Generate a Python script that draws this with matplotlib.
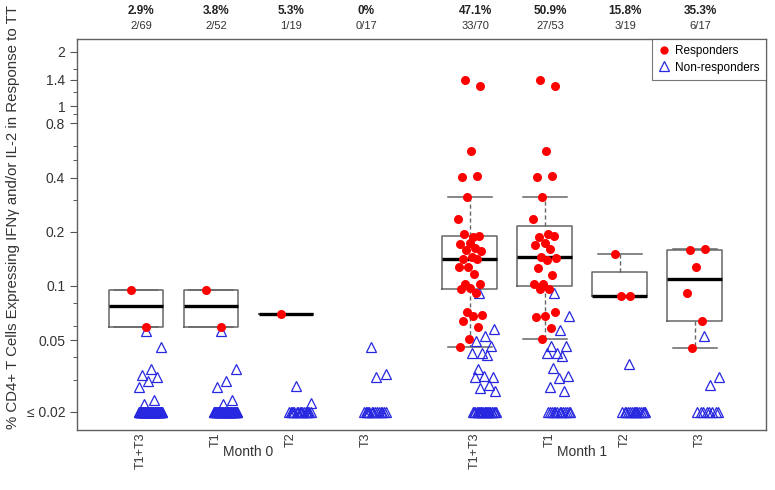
import numpy as np
import matplotlib.pyplot as plt
from matplotlib.lines import Line2D
from matplotlib.transforms import blended_transform_factory, ScaledTranslation

plt.rcParams['font.family'] = ['Liberation Sans', 'DejaVu Sans']

# groups (Month 0: T1+T3, T1, T2, T3 ; Month 1: T1+T3, T1, T2, T3)
labels = ['T1+T3', 'T1', 'T2', 'T3', 'T1+T3', 'T1', 'T2', 'T3']
positions = [1, 2, 3, 4, 5.45, 6.45, 7.45, 8.45]
pct_text = ['2.9%', '3.8%', '5.3%', '0%', '47.1%', '50.9%', '15.8%', '35.3%']
frac_text = ['2/69', '2/52', '1/19', '0/17', '33/70', '27/53', '3/19', '6/17']

# responders
resp_m0_t13 = [0.095, 0.059]
resp_m0_t1 = [0.095, 0.059]
resp_m0_t2 = [0.070]
resp_m0_t3 = []
resp_m1_t13 = [1.39, 1.29, 0.562, 0.403, 0.408, 0.312, 0.236, 0.187, 0.194, 0.190,
               0.173, 0.171, 0.163, 0.158, 0.156, 0.145, 0.141, 0.141, 0.127, 0.127,
               0.117, 0.103, 0.103, 0.0975, 0.0962, 0.0914, 0.0717, 0.069, 0.0681,
               0.0639, 0.0592, 0.0508, 0.0458]
resp_m1_t1 = [1.39, 1.29, 0.562, 0.403, 0.408, 0.312, 0.236, 0.194, 0.187, 0.190,
              0.173, 0.169, 0.160, 0.145, 0.143, 0.139, 0.126, 0.115, 0.103, 0.103,
              0.0962, 0.0962, 0.0717, 0.0681, 0.0673, 0.0585, 0.0508]
resp_m1_t2 = [0.150, 0.088, 0.088]
resp_m1_t3 = [0.158, 0.160, 0.127, 0.0914, 0.0639, 0.0452]

# non-responders: values above the floor, plus count at the 0.02 floor
non_m0_t13 = [0.056, 0.046, 0.0346, 0.032, 0.031, 0.0297, 0.0275, 0.0233, 0.022] + [0.02] * 58
non_m0_t1 = [0.056, 0.0346, 0.0297, 0.0275, 0.0233, 0.022] + [0.02] * 44
non_m0_t2 = [0.0278, 0.0224] + [0.02] * 16
non_m0_t3 = [0.046, 0.0324, 0.031] + [0.02] * 14
non_m1_t13 = [0.0914, 0.0577, 0.0527, 0.0495, 0.0464, 0.0424, 0.0424, 0.0414, 0.0346,
              0.031, 0.0316, 0.031, 0.0282, 0.0271, 0.0261] + [0.02] * 22
non_m1_t1 = [0.0914, 0.068, 0.057, 0.0464, 0.0464, 0.0424, 0.0424, 0.041, 0.035,
             0.0316, 0.0308, 0.0275, 0.0261] + [0.02] * 13
non_m1_t2 = [0.0369] + [0.02] * 15
non_m1_t3 = [0.0527, 0.031, 0.0282] + [0.02] * 8

responders = [resp_m0_t13, resp_m0_t1, resp_m0_t2, resp_m0_t3,
              resp_m1_t13, resp_m1_t1, resp_m1_t2, resp_m1_t3]
nonresponders = [non_m0_t13, non_m0_t1, non_m0_t2, non_m0_t3,
                 non_m1_t13, non_m1_t1, non_m1_t2, non_m1_t3]


def fivenum_stats(vals):
    # R-style boxplot.stats (Tukey hinges, 1.5 IQR whiskers)
    x = np.sort(np.asarray(vals, dtype=float))
    n = len(x)
    n4 = np.floor((n + 3) / 2) / 2
    d = np.array([1, n4, (n + 1) / 2, n + 1 - n4, n])
    f = 0.5 * (x[np.floor(d).astype(int) - 1] + x[np.ceil(d).astype(int) - 1])
    iqr = f[3] - f[1]
    inside = x[(x >= f[1] - 1.5 * iqr) & (x <= f[3] + 1.5 * iqr)]
    return {'med': f[2], 'q1': f[1], 'q3': f[3],
            'whislo': inside.min(), 'whishi': inside.max(), 'fliers': []}


def spread(n, lo, hi):
    # deterministic, evenly scattered horizontal offsets
    u = (np.arange(n) * 0.618034 + 0.31) % 1.0
    return lo + (hi - lo) * u


fig = plt.figure(figsize=(7.75, 4.9), dpi=100)
ax = fig.add_axes([0.0994, 0.1224, 0.8890, 0.7980])

gray = '#666666'
stats, pos = [], []
for vals, p in zip(responders, positions):
    if len(vals) > 0:
        stats.append(fivenum_stats(vals))
        pos.append(p)
ax.bxp(stats, positions=pos, widths=0.73, capwidths=0.58, showfliers=False,
       manage_ticks=False, patch_artist=False,
       boxprops=dict(color=gray, linewidth=1.1),
       medianprops=dict(color='black', linewidth=2.4),
       whiskerprops=dict(color=gray, linewidth=1.0, linestyle=(0, (3, 2))),
       capprops=dict(color=gray, linewidth=1.1))

blue = '#2727E0'
for vals, p in zip(nonresponders, positions):
    xs = p + spread(len(vals), 0.03, 0.35)
    ax.plot(xs, vals, linestyle='none', marker='^', markersize=6.5,
            markerfacecolor='none', markeredgecolor=blue, markeredgewidth=0.9, zorder=3)

for vals, p in zip(responders, positions):
    xs = p + spread(len(vals), -0.16, 0.16)
    ax.plot(xs, vals, linestyle='none', marker='o', markersize=6.5,
            color='#FF0000', markeredgewidth=0, zorder=4)

ax.set_yscale('log')
ax.set_ylim(0.0158, 2.36)
ax.set_xlim(0.213, 9.40)

yticks = [0.02, 0.05, 0.1, 0.2, 0.4, 0.8, 1, 1.4, 2]
ytick_labels = ['\u2264 0.02', '0.05', '0.1', '0.2', '0.4', '0.8', '1', '1.4', '2']
yminor = [0.03, 0.04, 0.06, 0.08, 0.3, 0.5, 0.6, 0.9, 1.2, 1.6]
ax.set_yticks(yticks)
ax.set_yticklabels(ytick_labels)
ax.set_yticks(yminor, minor=True)
ax.yaxis.set_minor_formatter(plt.NullFormatter())
ax.tick_params(axis='y', which='major', length=5, width=0.8, color='#555555',
               labelsize=10, labelcolor='#333333')
ax.tick_params(axis='y', which='minor', length=3, width=0.7, color='#555555')

ax.set_xticks(positions)
ax.set_xticklabels(labels, rotation=90, va='top', ha='center')
ax.tick_params(axis='x', length=0, pad=2, labelsize=9, labelcolor='#333333')
shift = ScaledTranslation(5 / 100, 0, fig.dpi_scale_trans)
for lab in ax.get_xticklabels():
    lab.set_transform(lab.get_transform() + shift)

for s in ax.spines.values():
    s.set_color('#606060')
    s.set_linewidth(1.0)

ax.set_ylabel('% CD4+ T Cells Expressing IFN\u03b3 and/or IL-2 in Response to TT',
              fontsize=10.8, color='#333333')
ax.yaxis.set_label_coords(-0.083, 0.545)

trans = blended_transform_factory(ax.transData, fig.transFigure)
for p, pt, ft in zip(positions, pct_text, frac_text):
    ax.text(p + 0.07, 0.978, pt, transform=trans, ha='center', va='center',
            fontsize=8.5, fontweight='bold', color='#222222')
    ax.text(p + 0.07, 0.946, ft, transform=trans, ha='center', va='center',
            fontsize=8, color='#333333')

ax.text(np.mean(positions[:4]), 0.077, 'Month 0', transform=trans,
        ha='center', va='center', fontsize=10, color='#333333')
ax.text(np.mean(positions[4:]), 0.077, 'Month 1', transform=trans,
        ha='center', va='center', fontsize=10, color='#333333')

handles = [Line2D([], [], linestyle='none', marker='o', markersize=6, color='#FF0000',
                  markeredgewidth=0),
           Line2D([], [], linestyle='none', marker='^', markersize=6.5,
                  markerfacecolor='none', markeredgecolor=blue, markeredgewidth=0.9)]
leg = ax.legend(handles, ['Responders', 'Non-responders'], loc='upper right',
                borderaxespad=0, fontsize=8.5, frameon=True, fancybox=False,
                handlelength=0.9, handletextpad=0.5, borderpad=0.55, labelspacing=0.35)
leg.get_frame().set_edgecolor('#555555')
leg.get_frame().set_linewidth(0.8)

fig.savefig('out.png', dpi=100)
